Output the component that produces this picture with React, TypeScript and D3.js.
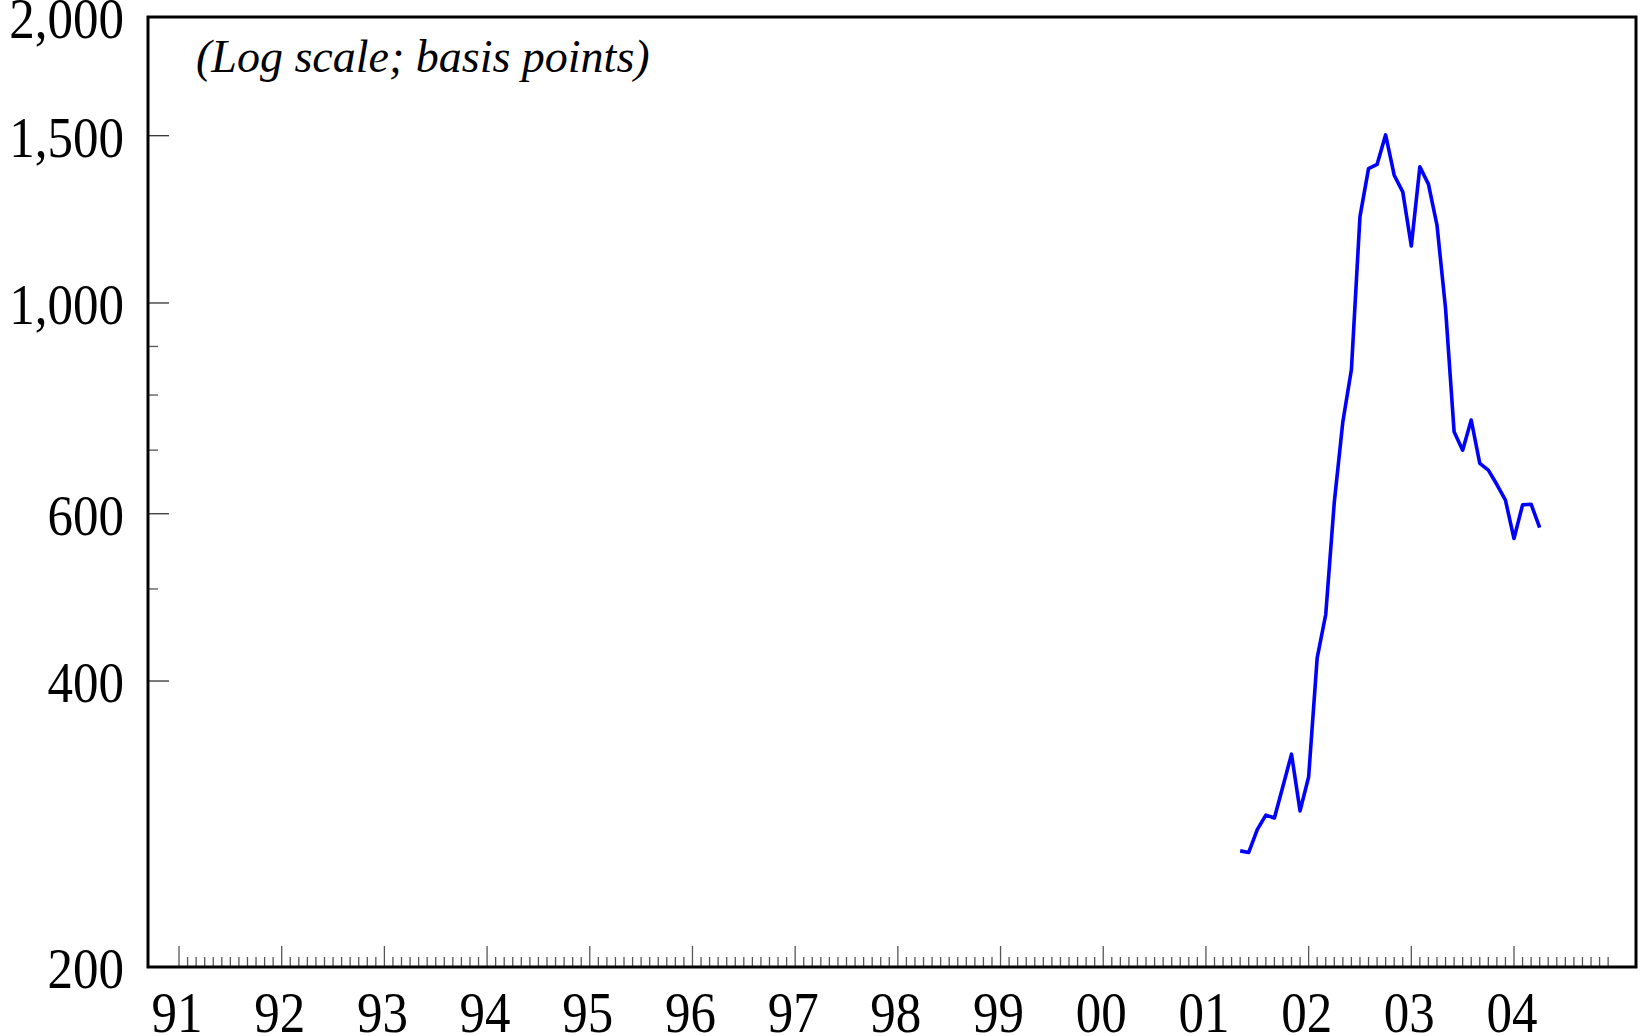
import React from "react";
import * as d3 from "d3";

const W = 1640;
const H = 1036;

// Data: monthly spread (basis points), April 2001 – March 2004
const startYear = 2001;
const startMonth = 3; // April (0-based)
const spreadValues = [
  265, 264, 279, 289, 287, 310, 335, 292, 317, 423, 470, 617,
  750, 851, 1233, 1385, 1399, 1503, 1363, 1309, 1148, 1391, 1334, 1208,
  987, 732, 700, 753, 678, 667, 644, 620, 565, 613, 614, 580,
];

const yearTicks = [1991, 1992, 1993, 1994, 1995, 1996, 1997, 1998, 1999, 2000, 2001, 2002, 2003, 2004];
const yearLabels = ["91", "92", "93", "94", "95", "96", "97", "98", "99", "00", "01", "02", "03", "04"];
const yMajorTicks = [2000, 1500, 1000, 600, 400, 200];
const yMajorLabels = ["2,000", "1,500", "1,000", "600", "400", "200"];
const yMinorTicks = [900, 800, 700, 500];
const annotation = "(Log scale; basis points)";

const FONT = "'Liberation Serif', 'Times New Roman', serif";

export default function App() {
  const left = 148, right = 1636, top = 17, bottom = 967;
  const x = d3.scaleLinear().domain([1990.698, 2005.188]).range([left, right]);
  const y = d3.scaleLog().domain([200, 2000]).range([bottom, top]);

  const points = spreadValues.map((v, i) => {
    const m = startMonth + i;
    const t = startYear + (m + 1) / 12; // plotted at end of month
    return [t, v] as [number, number];
  });
  const line = d3
    .line<[number, number]>()
    .x((d) => x(d[0]))
    .y((d) => y(d[1]));

  const minorX: number[] = [];
  yearTicks.forEach((yr) => {
    for (let m = 1; m < 12; m++) minorX.push(yr + m / 12);
  });

  return (
    <svg
      width={W}
      height={H}
      style={{ position: "absolute", left: 0, top: 0, display: "block", background: "#fff" }}
    >
      <rect x={0} y={0} width={W} height={H} fill="#fff" />
      {/* minor x ticks */}
      {minorX.map((t, i) => (
        <line key={"mx" + i} x1={x(t)} x2={x(t)} y1={bottom} y2={bottom - 10} stroke="#555" strokeWidth={1.3} />
      ))}
      {/* major x ticks */}
      {yearTicks.map((t, i) => (
        <line key={"Mx" + i} x1={x(t)} x2={x(t)} y1={bottom} y2={bottom - 21} stroke="#555" strokeWidth={1.3} />
      ))}
      {/* y minor ticks */}
      {yMinorTicks.map((v, i) => (
        <line key={"my" + i} x1={left} x2={left + 10} y1={y(v)} y2={y(v)} stroke="#555" strokeWidth={1.3} />
      ))}
      {yMajorTicks.map((v, i) => (
        <line key={"My" + i} x1={left} x2={left + 21} y1={y(v)} y2={y(v)} stroke="#333" strokeWidth={1.3} />
      ))}
      {/* frame */}
      <rect x={left} y={top} width={right - left} height={bottom - top} fill="none" stroke="#000" strokeWidth={3} />
      {/* data line */}
      <path d={line(points) || ""} fill="none" stroke="#0000ff" strokeWidth={3.6} strokeLinejoin="round" />
      {/* y labels */}
      {yMajorTicks.map((v, i) => (
        <g key={"yl" + i} transform={`translate(124,${y(v) + 21}) scale(1,1.1)`}>
          <text x={0} y={0} textAnchor="end" fontFamily={FONT} fontSize={51} fill="#000">
            {yMajorLabels[i]}
          </text>
        </g>
      ))}
      {/* x labels */}
      {yearTicks.map((t, i) => (
        <g key={"xl" + i} transform={`translate(${x(t) - 2},1032) scale(1,1.1)`}>
          <text x={0} y={0} textAnchor="middle" fontFamily={FONT} fontSize={51} fill="#000">
            {yearLabels[i]}
          </text>
        </g>
      ))}
      <text x={196} y={72} fontFamily={FONT} fontStyle="italic" fontSize={46} fill="#000">
        {annotation}
      </text>
    </svg>
  );
}
